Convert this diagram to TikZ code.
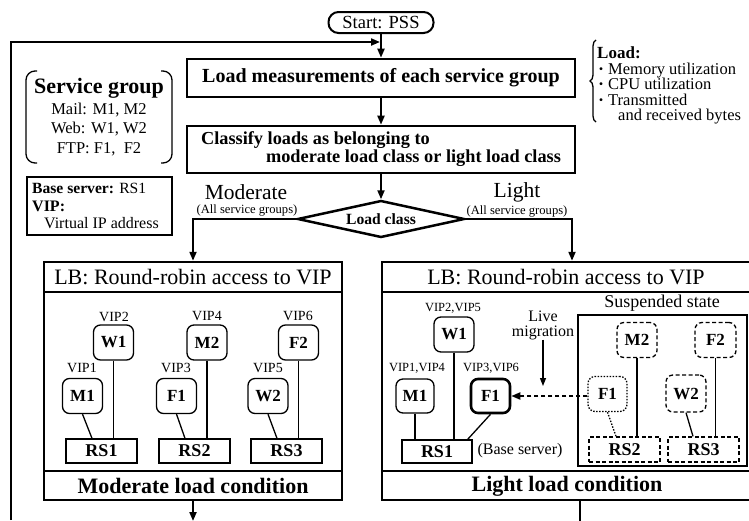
\documentclass[tikz,border=0pt]{standalone}
\usepackage{fontspec}
\setmainfont{Liberation Serif}
\newfontfamily\cjk{Noto Sans CJK JP}
\usetikzlibrary{arrows.meta,shapes.geometric,decorations.pathreplacing}
\newcommand{\fsz}[1]{\fontsize{#1}{#1}\selectfont}
\newcommand{\dotmark}{{\cjk\fontsize{14}{14}\selectfont ・}}

\tikzset{
  flow/.style={line width=2pt,-{Triangle[length=9pt,width=7pt]}},
  stepbox/.style={draw,line width=2.6pt,minimum width=388pt,inner sep=0pt,align=center},
  panel/.style={draw,line width=2.5pt,inner sep=0pt},
  sepline/.style={line width=1.6pt},
  vm/.style={draw,line width=1.3pt,rounded corners=7pt,minimum width=40pt,minimum height=35pt,inner sep=0pt,font=\fsz{17}\bfseries},
  rs/.style={draw,line width=1.3pt,minimum width=71pt,minimum height=24pt,inner sep=0pt,font=\fsz{18}\bfseries},
  vip/.style={inner sep=0pt,font=\fsz{14}},
  viplt/.style={inner sep=0pt,font=\fsz{12.5}},
  dashedge/.style={dash pattern=on 4pt off 2.5pt},
  dotedge/.style={dash pattern=on 1.5pt off 1.5pt},
  link/.style={line width=1.3pt},
  txt/.style={inner sep=0pt},
  loadtxt/.style={inner sep=0pt,anchor=base west,font=\fsz{16.5}},
}

\begin{document}
\begin{tikzpicture}[x=1pt,y=-1pt]
\useasboundingbox (0,0) rectangle (749,520);
\clip (0,0) rectangle (749,520);

% ---------- main flow ----------
\node[draw,line width=2pt,rounded corners=10pt,minimum width=105pt,minimum height=21pt,inner sep=0pt,font=\fsz{18.5}] (start) at (381,22.5) {Start: PSS};
\node[stepbox,minimum height=38pt,font=\fsz{20}\bfseries] (meas) at (381,78) {Load measurements of each service group};
\node[stepbox,minimum height=47pt,align=left,font=\fontsize{18.3}{18}\selectfont\bfseries] (cls) at (381,149.5)
  {Classify loads as belonging to\\\hspace*{65pt}moderate load class or light load class};
\node[draw,diamond,aspect=4.5,line width=2.5pt,inner sep=0pt,minimum width=167pt,minimum height=37pt,font=\fsz{15.6}\bfseries] (lc) at (381,219) {Load class};

\coordinate (join) at (381,42);
\coordinate (loopend) at (11,520);
\draw[flow] (start.south) -- (meas.north);
\draw[flow,shorten >=1pt] (loopend) |- (join);
\draw[flow] (meas.south) -- (cls.north);
\draw[flow] (cls.south) -- (lc.north);

% ---------- branch labels ----------
\node[txt,font=\fsz{21.5}] (modlbl) at (246,192) {Moderate};
\node[txt,font=\fsz{12.6}] (modsub) at (247,210.5) {(All service groups)};
\node[txt,font=\fsz{21.5}] (litlbl) at (517,192) {Light};
\node[txt,font=\fsz{12.6}] (litsub) at (517,211) {(All service groups)};

% ---------- service group legend ----------
\draw[link,rounded corners=9pt] (37,71) -- (26,71) -- (26,163) -- (37,163);
\draw[link,rounded corners=9pt] (161,71) -- (172,71) -- (172,163) -- (161,163);
\node[txt,font=\fsz{22}\bfseries] (sgt) at (99,88) {Service group};
\node[txt,font=\fsz{16.5}] (sg1) at (99,110) {Mail: M1, M2};
\node[txt,font=\fsz{16.5}] (sg2) at (99,129) {Web: W1, W2};
\node[txt,font=\fsz{16.5}] (sg3) at (99,149) {FTP: F1,\ \ F2};

\node[draw,link,minimum width=145pt,minimum height=58pt,inner sep=0pt] (bsb) at (99.5,206) {};
\node[txt,anchor=west,font=\fsz{15.6}] (bs1) at (32,188) {\textbf{Base server:} RS1};
\node[txt,anchor=west,font=\fsz{16}\bfseries] (bs2) at (32,206) {VIP:};
\node[txt,anchor=west,font=\fsz{16}] (bs3) at (44,223) {Virtual IP address};

% ---------- load legend ----------
\draw[link,decorate,decoration={brace,amplitude=6pt}] (596,122) -- (596,40);
\node[loadtxt,font=\fsz{17}\bfseries] (ld0) at (597,58) {Load:};
\node[loadtxt] (ld1) at (594,74) {\dotmark Memory utilization};
\node[loadtxt] (ld2) at (594,89.5) {\dotmark CPU utilization};
\node[loadtxt] (ld3) at (594,105) {\dotmark Transmitted};
\node[loadtxt] (ld4) at (618,120) {and received bytes};

% ---------- moderate load panel ----------
\node[panel,minimum width=298pt,minimum height=238pt] (modp) at (193,381) {};
\node[txt,font=\fsz{22}] (modhd) at (193,277) {LB: Round-robin access to VIP};
\node[txt,font=\fsz{22}\bfseries] (modft) at (193,486) {Moderate load condition};
\draw[sepline] (44,292) -- (342,292);
\draw[sepline] (44,471) -- (342,471);

\node[vm] (mw1) at (113.5,342.5) {W1};
\node[vm] (mm1) at (82.5,396) {M1};
\node[rs] (mrs1) at (101.5,451) {RS1};
\node[vip] at (114,317) {VIP2};
\node[vip] at (82,368) {VIP1};
\node[vm] (mm2) at (207,342.5) {M2};
\node[vm] (mf1) at (176.5,396) {F1};
\node[rs] (mrs2) at (194.5,451) {RS2};
\node[vip] at (207,316) {VIP4};
\node[vip] at (176,368) {VIP3};
\node[vm] (mf2) at (298.5,342.5) {F2};
\node[vm] (mw2) at (268,396) {W2};
\node[rs] (mrs3) at (286.5,451) {RS3};
\node[vip] at (298,316) {VIP6};
\node[vip] at (268,368) {VIP5};

\draw[link] (mm1.south) -- ([xshift=-9.5pt]mrs1.north);
\draw[link] (mw1.south) -- (mw1.south |- mrs1.north);
\draw[link] (mf1.south) -- ([xshift=-9.5pt]mrs2.north);
\draw[link] (mm2.south) -- (mm2.south |- mrs2.north);
\draw[link] (mw2.south) -- ([xshift=-9.5pt]mrs3.north);
\draw[link] (mf2.south) -- (mf2.south |- mrs3.north);

% ---------- light load panel ----------
\node[panel,minimum width=372pt,minimum height=238pt] (litp) at (568,381) {};
\node[txt,font=\fsz{22}] (lithd) at (566,277) {LB: Round-robin access to VIP};
\node[txt,font=\fsz{22}\bfseries] (litft) at (567,486) {Light load condition};
\draw[sepline] (382,292) -- (754,292);
\draw[sepline] (382,471) -- (754,471);

\node[vm] (lw1) at (454,334.5) {W1};
\node[vm,minimum width=38pt,minimum height=34pt] (lm1) at (415,396) {M1};
\node[vm,line width=2.6pt,minimum width=39pt,minimum height=34pt] (lf1) at (490.5,396) {F1};
\node[rs,minimum width=70pt,minimum height=23pt] (lrs1) at (437,451.5) {RS1};
\node[txt,font=\fsz{16}] (base) at (520,451) {(Base server)};
\node[viplt] at (453,308) {VIP2,VIP5};
\node[viplt] at (417,368) {VIP1,VIP4};
\node[viplt] at (491,368) {VIP3,VIP6};
\draw[link] (lm1.south) -- (lm1.south |- lrs1.north);
\draw[link] (lw1.south) -- (lw1.south |- lrs1.north);
\draw[link] (lf1.south) -- ([xshift=-5pt]lrs1.north east);

% suspended servers
\node[draw,link,minimum width=169pt,minimum height=151pt,inner sep=0pt] (susp) at (662.5,390.5) {};
\node[txt,font=\fsz{18}] (susplbl) at (662,303) {Suspended state};
\node[vm,dashedge] (sm2) at (637,340) {M2};
\node[vm,dashedge,minimum width=41pt] (sf2) at (715.5,340) {F2};
\node[vm,dotedge,minimum width=39pt] (sf1) at (607.5,394) {F1};
\node[vm,dashedge,minimum height=37pt] (sw2) at (686,393.5) {W2};
\node[rs,dashedge,minimum height=25pt] (srs2) at (624.5,449.5) {RS2};
\node[rs,dashedge,minimum height=25pt] (srs3) at (703.5,449.5) {RS3};
\draw[link,dotedge] (sf1.south) -- ([xshift=-8.5pt]srs2.north);
\draw[link] (sm2.south) -- (sm2.south |- srs2.north);
\draw[link] (sw2.south) -- ([xshift=-10.5pt]srs3.north);
\draw[link] (sf2.south) -- (sf2.south |- srs3.north);

% live migration
\node[txt,align=center,font=\fontsize{16}{15}\selectfont] (live) at (543,325) {Live\\migration};
\coordinate (livetip) at (543,386);
\draw[link,-{Triangle[length=8pt,width=6pt]}] (live.south) -- (livetip);
\draw[line width=2pt,dash pattern=on 4pt off 3pt,-{Triangle[length=9pt,width=7pt]}] (lf1.east -| sf1.west) -- (lf1.east);

% ---------- branches and exits ----------
\draw[flow] (lc.west) -| (modp.north);
\draw[flow] (lc.east) -| ([xshift=4pt]litp.north);
\coordinate (modend) at (193,521);
\coordinate (litend) at (580,525);
\draw[flow] (modp.south) -- (modend);
\draw[line width=2pt] ([xshift=12pt]litp.south) -- (litend);
\end{tikzpicture}
\end{document}
